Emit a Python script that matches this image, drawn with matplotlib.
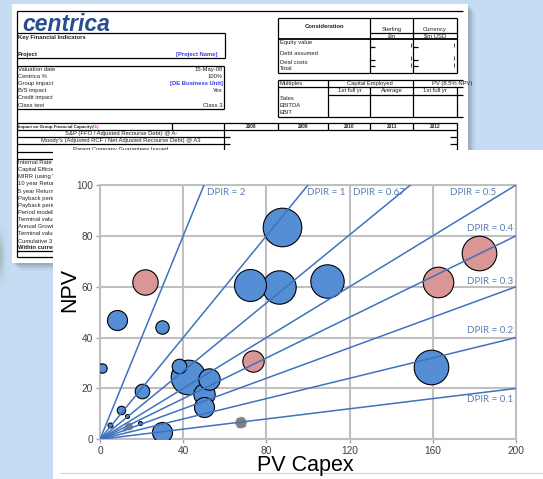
import numpy as np
import matplotlib.pyplot as plt
from matplotlib.patches import Rectangle

# ---- portfolio data: PV capex vs NPV, bubble value ~ project scale ----
capex = [87.4, 72.1, 86.0, 109.0, 159.1, 8.0, 30.0, 0.8, 42.5, 38.0, 52.4,
         50.2, 50.0, 20.0, 10.0, 29.7, 19.2, 4.8,
         21.6, 162.7, 182.2, 73.4, 12.8,
         67.8, 14.0, 12.0]
npv = [83.4, 60.7, 60.0, 62.4, 28.5, 46.9, 44.3, 28.2, 24.6, 29.0, 23.6,
       17.7, 12.8, 19.0, 11.5, 3.0, 6.5, 5.6,
       62.0, 62.0, 73.4, 30.9, 9.2,
       6.5, 5.0, 3.7]
bubble_val = [372, 256, 279, 279, 299, 100, 45, 22, 300, 53, 114,
              114, 100, 53, 18, 100, 4, 6,
              161, 234, 299, 114, 4,
              36, 18, 4]
group = ['live'] * 18 + ['proposed'] * 5 + ['lapsed'] * 3

dpir = [2, 1, 0.67, 0.5, 0.4, 0.3, 0.2, 0.1]
x_ticks = [0, 40, 80, 120, 160, 200]
y_ticks = [0, 20, 40, 60, 80, 100]

# ---- spreadsheet text (left column is cut off by the chart panel) ----
kfi_rows = ['Valuation date', 'Centrica %', 'Group impact', 'B/S impact',
            'Credit impact', 'Class test']
kfi_vals = ['15-May-08', '100%', '[DE Business Unit]', 'Yes', '', 'Class 3']
years = ['2008', '2009', '2010', '2011', '2012']
metric_rows = ['Internal Rate of', 'Capital Efficien', 'MIRR (using W',
               '10 year Return', '5 year Return', 'Payback period',
               'Payback period', 'Period modelled', 'Terminal value',
               'Annual Growth', 'Terminal value', 'Cumulative 3 y']
consid_rows = ['Equity value', 'Debt assumed', 'Deal costs', 'Total']
multiple_rows = ['Sales', 'EBITDA', 'EBIT']

W, H = 543, 479
fig = plt.figure(figsize=(W / 100, H / 100), dpi=100)

bg = fig.add_axes([0, 0, 1, 1])
bg.axis('off')

SHEET = 'Liberation Sans'
fs = 4.2
blue_txt = '#3a3ae6'

# slide background
bg.add_patch(Rectangle((0, 0), W, H, color='#c5dcf3', zorder=0))

# soft dark smudge on the left edge
yy, xx = np.mgrid[0:H, 0:40]
blob = np.exp(-(((xx + 3) / 6.0) ** 2 + ((yy - 255) / 20.0) ** 2))
rgba = np.zeros((H, 40, 4))
rgba[..., 0], rgba[..., 1], rgba[..., 2] = 0.45, 0.56, 0.45
rgba[..., 3] = 0.55 * blob
bg.imshow(rgba, extent=(0, 40, H, 0), zorder=0.5, interpolation='bilinear')
bg.set_xlim(0, W)
bg.set_ylim(H, 0)

# spreadsheet shadow and page
for i, a in enumerate([0.10, 0.08, 0.06, 0.04, 0.02]):
    off = 2 + i * 1.6
    bg.add_patch(Rectangle((12 + off, 4 + off), 456, 259, color='#333333',
                           alpha=a, lw=0, zorder=1))
bg.add_patch(Rectangle((12, 4), 456, 259, color='white', lw=0, zorder=2))


def hline(y, x0, x1, lw=0.9):
    bg.plot([x0, x1], [y, y], color='black', lw=lw, zorder=3,
            solid_capstyle='butt')


def vline(x, y0, y1, lw=0.9):
    bg.plot([x, x], [y0, y1], color='black', lw=lw, zorder=3,
            solid_capstyle='butt')


def cell(x, y, s, ha='left', bold=False, color='#222222', size=fs):
    return bg.text(x, y, s, ha=ha, va='center', fontsize=size, color=color,
                   family=SHEET, fontweight='bold' if bold else 'normal',
                   zorder=4)


# logo
bg.text(22, 30.5, 'centrica', fontsize=16.5, family=SHEET, fontweight='bold',
        fontstyle='italic', color='#2a4c93', ha='left', va='baseline', zorder=4)

# frame
hline(10.5, 17, 463)
vline(17, 10.5, 257)

# key financial indicators
hline(33.3, 17, 225)
hline(58.3, 17, 225)
vline(225, 33.3, 58.3)
cell(18, 37, 'Key Financial Indicators', bold=True)
cell(18, 54, 'Project', bold=True)
cell(218, 54, '[Project Name]', ha='right', bold=True, color=blue_txt)

hline(66, 17, 224.3)
hline(109.3, 17, 224.3)
vline(224.3, 66, 109.3)
for i, (r, v) in enumerate(zip(kfi_rows, kfi_vals)):
    y = 69.3 + i * 7.15
    cell(18, y, r)
    if v.startswith('['):
        cell(222.5, y, v, ha='right', bold=True, color=blue_txt)
    else:
        cell(222.5, y, v, ha='right')

# group financial capacity
hline(123.3, 17, 456.7)
hline(129.7, 17, 456.7)
for x in [171.7, 224.3, 278.3, 328.3, 370, 413.3, 456.7]:
    vline(x, 123.3, 129.7)
cell(18, 126.6, 'Impact on Group Financial Capacity', bold=True, size=3.2)
cell(91.5, 126.6, '(£k)', bold=True, size=3.2, color='#e03ce0')
for x, yr in zip([251, 303.3, 349.3, 391.7, 435], years):
    cell(x, 126.6, yr, ha='center', bold=True, size=3.4)
hline(136.7, 17, 230)
hline(144, 17, 230)
vline(223.5, 129.7, 150)
hline(136.7, 450, 456.7)
hline(144, 450, 456.7)
vline(456.7, 129.7, 150)
cell(121, 133.3, 'S&P (FFO / Adjusted Recourse Debt) @ A-', ha='center')
cell(121, 140.6, "Moody's (Adjusted RCF / Net Adjusted Recourse Debt) @ A3", ha='center')
cell(121, 149.2, 'Parent Company Guarantees Issued', ha='center')

hline(151.7, 17, 60)
hline(159.3, 17, 60)
for i, r in enumerate(metric_rows):
    y = 162.7 + i * 7.1 + (0.6 if i >= 11 else 0)
    cell(18, y, r)
cell(18, 247.5, 'Within current', bold=True)
hline(251, 17, 60)
hline(257, 17, 60)

# consideration table
hline(18.3, 278.3, 456.7)
hline(33.3, 370, 456.7)
hline(39.3, 278.3, 456.7, lw=1.3)
hline(72.7, 278.3, 456.7)
for x in [278.3, 370, 413.3, 456.7]:
    vline(x, 18.3, 72.7)
cell(325, 26, 'Consideration', ha='center', bold=True)
cell(391.7, 29.3, 'Sterling', ha='center')
cell(435, 29.3, 'Currency', ha='center')
cell(391.7, 36.2, '£m', ha='center')
cell(435, 36.2, '$m USD', ha='center')
for y, r in zip([42.7, 53.3, 62, 68.7], consid_rows):
    cell(279.5, y, r)
for y in [46.7, 60.3, 66.3]:
    hline(y, 370, 375)
    hline(y, 413.3, 418.3)
for y0, y1 in [(42.5, 46.5), (55.5, 59.5), (62.5, 66.5)]:
    vline(410.5, y0, y1, lw=0.5)
    vline(453.5, y0, y1, lw=0.5)

# multiples table
hline(80, 278.3, 463)
hline(87.3, 278.3, 463)
hline(94.7, 328.3, 463)
hline(116.7, 278.3, 463)
vline(278.3, 80, 116.7)
vline(328.3, 80, 116.7)
vline(413.3, 80, 116.7)
vline(370, 87.3, 116.7)
vline(456.7, 87.3, 116.7)
cell(279.5, 83.5, 'Multiples')
cell(370, 83.5, 'Capital Employed', ha='center')
pv = cell(431.5, 83.5, 'PV (8.5% NPV)')
pv.set_clip_path(Rectangle((420, 78), 43, 10, transform=bg.transData))
for x, s in zip([350, 391.7, 435], ['1st full yr', 'Average', '1st full yr']):
    cell(x, 90.9, s, ha='center')
for y, r in zip([98.3, 105, 112], multiple_rows):
    cell(279.5, y, r)

# chart panel
bg.add_patch(Rectangle((53, 149.8), W - 53, H - 149.8, color='white', lw=0, zorder=10))
bg.plot([60, W], [473.3, 473.3], color='#d4d4d4', lw=0.8, zorder=11)

# ---- bubble chart ----
ax = fig.add_axes([100 / W, (H - 439.3) / H, 416 / W, 254.3 / H], zorder=5)
ax.set_facecolor('none')
ax.set_xlim(0, 200)
ax.set_ylim(0, 100)

grid_c = '#c0c0c0'
ax.set_xticks(x_ticks)
ax.set_yticks(y_ticks)
ax.grid(True, color=grid_c, lw=1.5, zorder=0)
for sp in ax.spines.values():
    sp.set_color(grid_c)
    sp.set_linewidth(1.5)
ax.tick_params(axis='both', length=3, width=1, color='#a6a6a6',
               labelsize=7.3, labelcolor='#404040', pad=2)
for lab in ax.get_xticklabels() + ax.get_yticklabels():
    lab.set_family(SHEET)

fill = {'live': '#558ed5', 'proposed': '#d99694', 'lapsed': '#7f7f7f'}
edge = {'live': 'black', 'proposed': 'black', 'lapsed': '#e6e6e6'}
style = {'live': 'solid', 'proposed': 'solid', 'lapsed': 'dashed'}
px2pt = 72 / 100
order = np.argsort(bubble_val, kind='stable')[::-1]
for i in order:
    g = group[i]
    ax.scatter(capex[i], npv[i], s=bubble_val[i] * (2 * px2pt) ** 2,
               color=fill[g], edgecolors=edge[g], linewidths=0.8,
               linestyles=style[g], zorder=3)

xs = np.array([0, 200])
for d in dpir:
    ax.plot(xs, d * xs, color='#3f72bf', lw=1.1, zorder=4)

lab_kw = dict(fontsize=7.0, family='Lato', color='#5b7db3', va='center', zorder=5)
ax.text(51.4, 97.2, 'DPIR = 2', ha='left', **lab_kw)
ax.text(99.5, 97.2, 'DPIR = 1', ha='left', **lab_kw)
ax.text(121.6, 97.2, 'DPIR = 0.67', ha='left', **lab_kw)
ax.text(190.6, 97.2, 'DPIR = 0.5', ha='right', **lab_kw)
for d, y in zip([0.4, 0.3, 0.2, 0.1], [83.0, 62.2, 42.6, 15.5]):
    ax.text(198.6, y, f'DPIR = {d}', ha='right', **lab_kw)

ax.set_xlabel('PV Capex', fontsize=15.5, family=SHEET, color='black')
ax.set_ylabel('NPV', fontsize=15.5, family=SHEET, color='black')
ax.xaxis.set_label_coords(0.493, -0.061)
ax.yaxis.set_label_coords(-0.047, 0.587)

fig.savefig('out.png', dpi=100)
